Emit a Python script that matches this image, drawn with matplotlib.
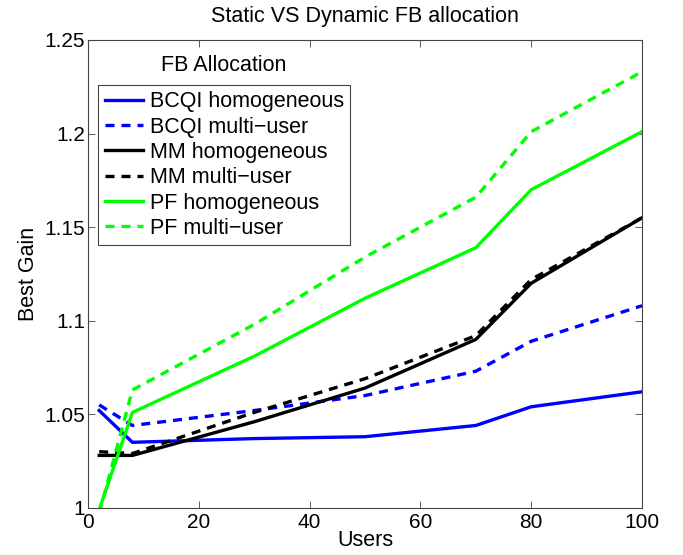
import numpy as np
import matplotlib.pyplot as plt

plt.rcParams['font.family'] = ['Liberation Sans', 'DejaVu Sans']

# number of users simulated
users = [2, 8, 30, 50, 70, 80, 100]

# best gain per scheduler and feedback allocation
bcqi_homog = [1.052, 1.035, 1.037, 1.038, 1.044, 1.054, 1.062]
bcqi_multi = [1.055, 1.044, 1.052, 1.060, 1.073, 1.089, 1.108]
mm_homog = [1.028, 1.028, 1.046, 1.064, 1.090, 1.120, 1.155]
mm_multi = [1.030, 1.029, 1.051, 1.069, 1.092, 1.122, 1.155]
pf_homog = [0.999, 1.051, 1.081, 1.112, 1.139, 1.170, 1.201]
pf_multi = [0.997, 1.063, 1.098, 1.134, 1.166, 1.201, 1.233]

labels = ['BCQI homogeneous', 'BCQI multi\u2212user',
          'MM homogeneous', 'MM multi\u2212user',
          'PF homogeneous', 'PF multi\u2212user']

fig = plt.figure(figsize=(6.83, 5.55), dpi=100)
ax = fig.add_axes([0.129, 0.085, 0.811, 0.843])

green = '#00ff00'
lw = 2.4
dash = (0, (2.7, 2.1))
ax.plot(users, bcqi_homog, color='#0000ff', lw=lw, label=labels[0])
ax.plot(users, bcqi_multi, color='#0000ff', lw=lw, ls=dash, label=labels[1])
ax.plot(users, mm_homog, color='black', lw=lw, label=labels[2])
ax.plot(users, mm_multi, color='black', lw=lw, ls=dash, label=labels[3])
ax.plot(users, pf_homog, color=green, lw=lw, label=labels[4])
ax.plot(users, pf_multi, color=green, lw=lw, ls=dash, label=labels[5])

ax.set_xlim(0, 100)
ax.set_ylim(1, 1.25)
ax.set_xticks([0, 20, 40, 60, 80, 100])
ax.set_yticks([1, 1.05, 1.1, 1.15, 1.2, 1.25])
ax.set_yticklabels(['1', '1.05', '1.1', '1.15', '1.2', '1.25'])
ax.tick_params(direction='in', top=True, right=True, labelsize=15,
               length=5, width=0.6, color='#444444', pad=2)
ax.tick_params(axis='x', pad=4)
for s in ax.spines.values():
    s.set_linewidth(0.8)
    s.set_color('#444444')

ax.set_xlabel('Users', fontsize=15.5, labelpad=-2)
ax.set_ylabel('Best Gain', fontsize=15.5, labelpad=4)
ax.set_title('Static VS Dynamic FB allocation', fontsize=15.5, pad=13)

ax.text(0.245, 0.945, 'FB Allocation', transform=ax.transAxes,
        ha='center', va='center', fontsize=15.5)
leg = ax.legend(loc='upper left', bbox_to_anchor=(0.018, 0.904), fontsize=15.5,
                frameon=True, fancybox=False, framealpha=1,
                handlelength=1.8, handletextpad=0.3, labelspacing=0.2,
                borderpad=0.3, borderaxespad=0)
leg.get_frame().set_edgecolor('#444444')
leg.get_frame().set_linewidth(0.8)

fig.savefig('out.png', dpi=100)
